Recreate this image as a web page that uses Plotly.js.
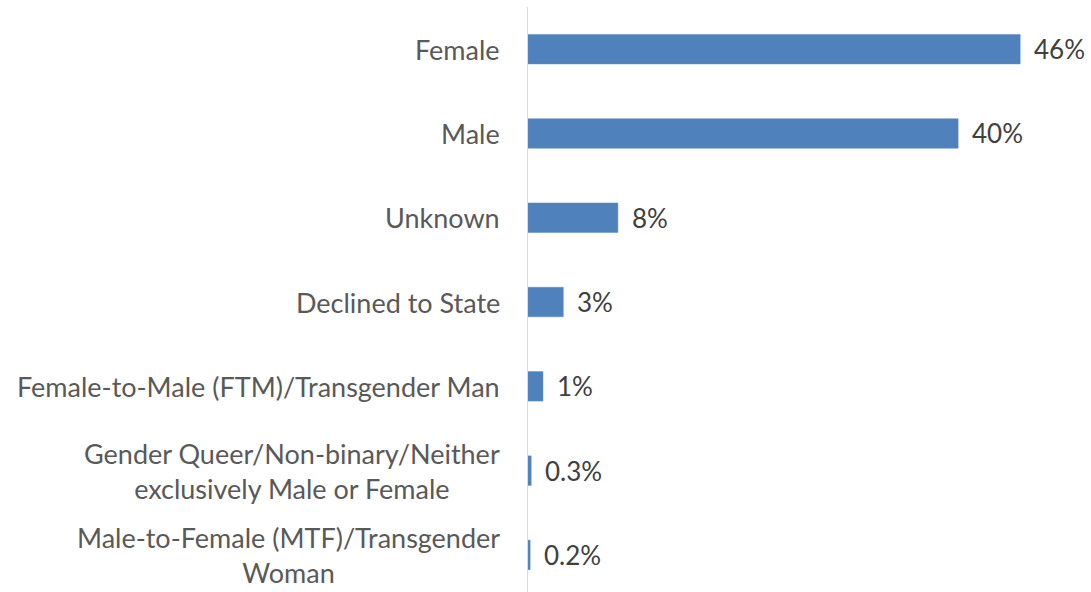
<!DOCTYPE html>
<html>
<head>
<meta charset="utf-8">
<script src="https://cdn.plot.ly/plotly-3.0.1.min.js"></script>
<style>html,body{margin:0;padding:0;background:#fff;}#chart{width:1091px;height:592px;}</style>
</head>
<body>
<div id="chart"></div>
<script>
var categories = [
  "Female",
  "Male",
  "Unknown",
  "Declined to State",
  "Female-to-Male (FTM)/Transgender Man",
  "Gender Queer/Non-binary/Neither<br>exclusively Male or Female",
  "Male-to-Female (MTF)/Transgender<br>Woman"
];
var values = [46, 40.2, 8.4, 3.3, 1.4, 0.3, 0.2];
var valueLabels = ["46%", "40%", "8%", "3%", "1%", "0.3%", "0.2%"];

var FONT = "Lato, 'Open Sans', sans-serif";

var annotations = [];
categories.forEach(function (c, i) {
  annotations.push({
    x: 0, y: c, xref: "x", yref: "y",
    text: c, showarrow: false, xanchor: "right", yanchor: "middle",
    align: "center", xshift: -26,
    font: {family: FONT, size: 27, color: "#595959"}
  });
  annotations.push({
    x: values[i], y: c, xref: "x", yref: "y",
    text: valueLabels[i], showarrow: false, xanchor: "left", yanchor: "middle",
    xshift: 12,
    font: {family: FONT, size: 26, color: "#404040"}
  });
});

var trace = {
  type: "bar",
  orientation: "h",
  x: values,
  y: categories,
  marker: {color: "#4F81BD", line: {color: "#5B8BC6", width: 0.5}},
  hoverinfo: "none"
};

var layout = {
  width: 1091, height: 592,
  margin: {l: 528, r: 28, t: 7, b: 0, pad: 0},
  paper_bgcolor: "#ffffff", plot_bgcolor: "#ffffff",
  bargap: 0.65,
  showlegend: false,
  xaxis: {range: [0, 50], showgrid: false, zeroline: false, showticklabels: false, ticks: "", showline: false},
  yaxis: {type: "category", range: [6.44, -0.5], showgrid: false, zeroline: false,
          showticklabels: false, ticks: "", showline: true, linecolor: "#d9d9d9", linewidth: 1.5},
  annotations: annotations,
  font: {family: FONT}
};

Plotly.newPlot("chart", [trace], layout, {displayModeBar: false, staticPlot: true});
</script>
</body>
</html>
